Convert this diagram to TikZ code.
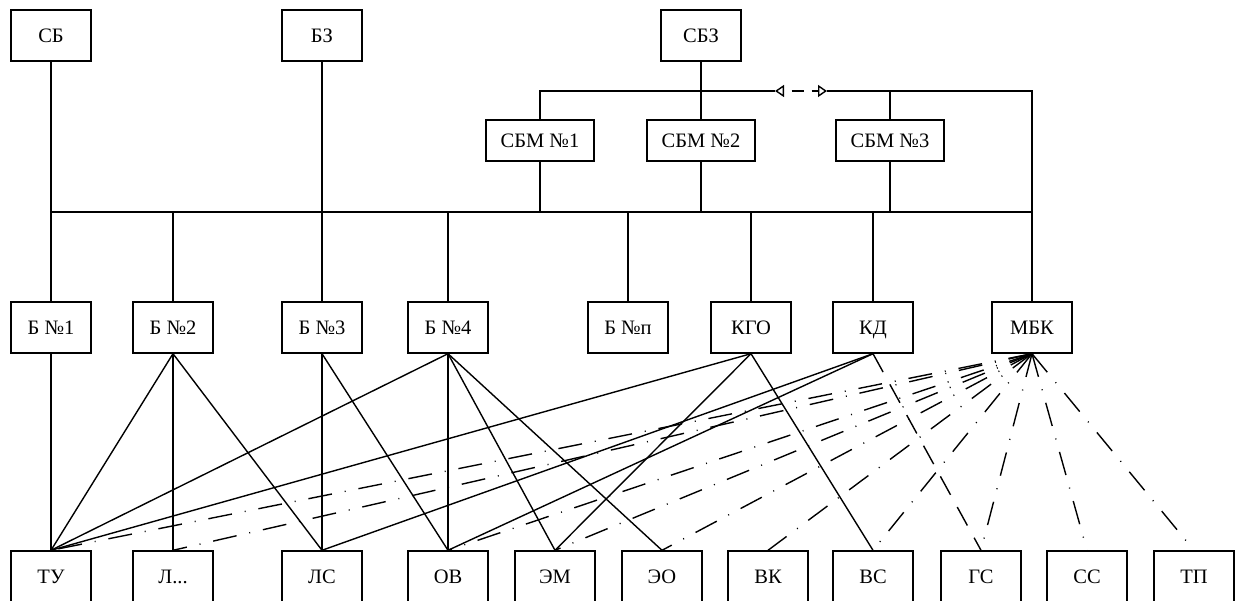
\documentclass[tikz,border=0pt]{standalone}
\usepackage{fontspec}
\setmainfont{Liberation Serif}
\usetikzlibrary{arrows.meta}
\begin{document}
\begin{tikzpicture}[x=1pt,y=-1pt,
  box/.style={draw, line width=1.4pt, minimum width=80pt, minimum height=51pt,
    inner sep=0pt, text height=17.6pt, text depth=4pt,
    font=\fontsize{20.5}{24}\selectfont},
  subbox/.style={box, minimum width=108pt, minimum height=41pt},
  link/.style={line width=1.4pt},
  kdlink/.style={link, dash pattern=on 21pt off 14pt},
  mbklink/.style={link, dash pattern=on 24pt off 13pt on 1pt off 13pt},
  opentip/.tip={Triangle[open, length=9pt, width=12pt]},
]
\useasboundingbox (0,0) rectangle (1237,601);
\clip (0,0) rectangle (1237,601);

% top level
\node[box] (sb)  at (51,35.5)  {СБ};
\node[box] (bz)  at (322,35.5) {БЗ};
\node[box] (sbz) at (701,35.5) {СБЗ};

% second level
\node[subbox] (sbm1) at (540,140.5) {СБМ №1};
\node[subbox] (sbm2) at (701,140.5) {СБМ №2};
\node[subbox] (sbm3) at (890,140.5) {СБМ №3};

% middle row
\node[box] (b1)  at (51,327.5)   {Б №1};
\node[box] (b2)  at (173,327.5)  {Б №2};
\node[box] (b3)  at (322,327.5)  {Б №3};
\node[box] (b4)  at (448,327.5)  {Б №4};
\node[box] (bn)  at (628,327.5)  {Б №п};
\node[box] (kgo) at (751,327.5)  {КГО};
\node[box] (kd)  at (873,327.5)  {КД};
\node[box] (mbk) at (1032,327.5) {МБК};

% bottom row
\node[box] (tu) at (51,576.5)   {ТУ};
\node[box] (l)  at (173,576.5)  {Л...};
\node[box] (ls) at (322,576.5)  {ЛС};
\node[box] (ov) at (448,576.5)  {ОВ};
\node[box] (em) at (555,576.5)  {ЭМ};
\node[box] (eo) at (662,576.5)  {ЭО};
\node[box] (vk) at (768,576.5)  {ВК};
\node[box] (vs) at (873,576.5)  {ВС};
\node[box] (gs) at (981,576.5)  {ГС};
\node[box] (ss) at (1087,576.5) {СС};
\node[box] (tp) at (1194,576.5) {ТП};

% junction points
\coordinate (arrL) at (775,91);
\coordinate (arrR) at (827,91);
\coordinate (busL) at (51,212);
\coordinate (busR) at (1032,212);

% upper link with the two-way arrow
\draw[link] (sbm1.north) |- (arrL);
\draw[link] (arrR) -| (mbk.north);
\draw[link] (sbz.south) -- (sbm2.north);
\draw[link] (sbm3.north) -- (sbm3.north |- arrL);
\draw[link, dash pattern=on 12pt off 8pt, dash phase=12pt, opentip-opentip] (arrL) -- (arrR);

% common bus
\draw[link] (busL) -- (busR);
\draw[link] (sb.south) -- (b1.north);
\draw[link] (bz.south) -- (b3.north);
\foreach \n in {sbm1,sbm2,sbm3} \draw[link] (\n.south) -- (\n.south |- busL);
\foreach \n in {b2,b4,bn,kgo,kd} \draw[link] (\n.north) -- (\n.north |- busL);

% solid links to the bottom row
\draw[link] (b1.south) -- (tu.north);
\foreach \t in {tu,l,ls} \draw[link] (b2.south) -- (\t.north);
\foreach \t in {ls,ov} \draw[link] (b3.south) -- (\t.north);
\foreach \t in {tu,ov,em,eo} \draw[link] (b4.south) -- (\t.north);
\foreach \t in {tu,em,vs} \draw[link] (kgo.south) -- (\t.north);
\foreach \t in {ls,ov} \draw[link] (kd.south) -- (\t.north);

% dashed link
\draw[kdlink] (kd.south) -- (gs.north);

% dash-dot links
\foreach \t in {tu,l,ov,em,eo,vk,vs,gs,ss,tp} \draw[mbklink] (mbk.south) -- (\t.north);
\end{tikzpicture}
\end{document}
